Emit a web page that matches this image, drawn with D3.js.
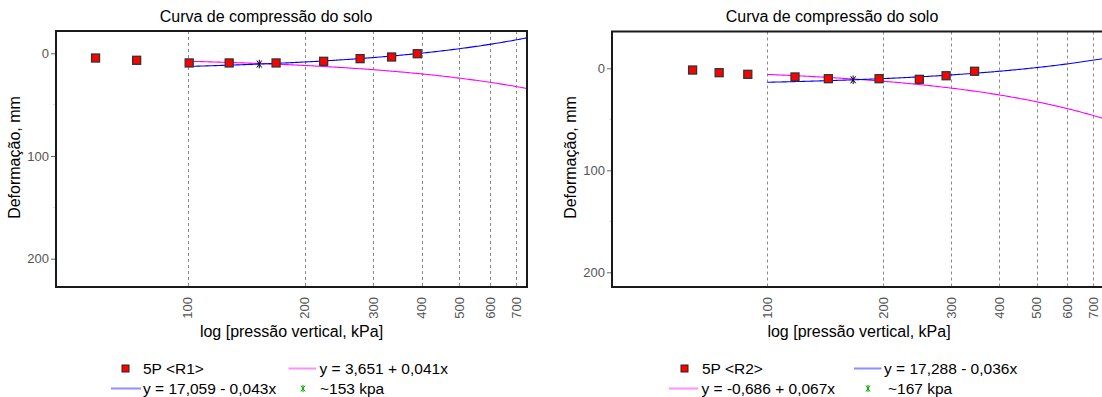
<!DOCTYPE html>
<html>
<head>
<meta charset="utf-8">
<script src="https://cdn.jsdelivr.net/npm/d3@7"></script>
<style>
  body { margin: 0; background: #fff; }
  svg { display: block; font-family: "Liberation Sans", Arial, sans-serif; }
</style>
</head>
<body>
<svg id="chart" width="1102" height="397"></svg>
<script>
// Ensaio 5P — pressão vertical (kPa) e deformação (mm) de cada ramo
const pressR1  = [58, 74, 101, 128, 169, 224, 278, 335, 390];
const deformR1 = [4.6, 6.8, 9.4, 9.4, 9.4, 7.8, 5.2, 3.6, 0.4];
const pressR2  = [64, 75, 89, 118, 144, 195, 248, 291, 345];
const deformR2 = [1.7, 4.3, 5.9, 8.5, 10.2, 10.2, 10.8, 7.3, 2.9];

// Retas ajustadas y = a + b·x (x em kPa), traçadas a partir de 100 kPa
const fitBlueR1 = [17.059, -0.043];
const fitPinkR1 = [3.651, 0.041];
const fitBlueR2 = [17.288, -0.036];
const fitPinkR2 = [-0.686, 0.067];
const fitStartKpa = 100;

// Pressão de pré-adensamento estimada (kPa)
const preconsR1 = 153;
const preconsR2 = 167;

// Eixos
const xTicks = [100, 200, 300, 400, 500, 600, 700];
const yTicks = [0, 100, 200];
const yMinorTicks = [50, 150];

// Textos
const chartTitle = "Curva de compressão do solo";
const xTitle = "log [pressão vertical, kPa]";
const yTitle = "Deformação, mm";
const legendR1 = ["5P <R1>", "y = 3,651 + 0,041x", "y = 17,059 - 0,043x", "~153 kpa"];
const legendR2 = ["5P <R2>", "y = 17,288 - 0,036x", "y = -0,686 + 0,067x", "~167 kpa"];

const BLUE = "#0000ff", PINK = "#ff00ff", GREEN = "#00a000";
const BLUE_LIGHT = "#8f8fff", PINK_LIGHT = "#ff8fff";

const svg = d3.select("#chart");

function starPath(cx, cy, r) {
  const a = Math.PI / 180 * 55;
  const dx = r * Math.cos(a), dy = r * Math.sin(a);
  return `M${cx},${cy - r}L${cx},${cy + r}` +
         `M${cx - dx},${cy - dy}L${cx + dx},${cy + dy}` +
         `M${cx - dx},${cy + dy}L${cx + dx},${cy - dy}`;
}

function drawPanel(o) {
  const [L, R, T, B] = o.frame;
  const x = d3.scaleLog().domain([100, 700]).range(o.xRange);
  const y = d3.scaleLinear().domain([0, 200]).range(o.yRange);
  const g = svg.append("g");

  svg.append("clipPath").attr("id", "clip" + o.key)
    .append("rect").attr("x", L).attr("y", T).attr("width", R - L).attr("height", B - T);

  // título
  g.append("text").attr("x", o.titleX).attr("y", 21.5)
    .attr("text-anchor", "middle").attr("font-size", 16).attr("fill", "#000")
    .text(chartTitle);

  // grade vertical tracejada
  g.append("g").selectAll("line").data(xTicks).join("line")
    .attr("x1", d => Math.round(x(d)) + 0.5).attr("x2", d => Math.round(x(d)) + 0.5)
    .attr("y1", T).attr("y2", B)
    .attr("stroke", "#8a8a8a").attr("stroke-width", 1).attr("stroke-dasharray", "3,3");

  // eixo y
  const yAxis = g.append("g").attr("transform", `translate(${L},0)`)
    .call(d3.axisLeft(y).tickValues(yTicks).tickSize(5).tickPadding(2));
  yAxis.select(".domain").remove();
  yAxis.selectAll(".tick line").attr("stroke", "#666");
  yAxis.selectAll(".tick text").attr("fill", "#555").attr("font-size", 13)
    .attr("font-family", "Liberation Sans, Arial, sans-serif");
  g.append("g").selectAll("line").data(yMinorTicks).join("line")
    .attr("x1", L - 3).attr("x2", L).attr("y1", d => y(d)).attr("y2", d => y(d))
    .attr("stroke", "#ddd");

  // rótulos do eixo x (verticais)
  g.append("g").selectAll("text").data(xTicks).join("text")
    .attr("transform", d => `translate(${x(d)},${B + 10}) rotate(-90)`)
    .attr("text-anchor", "end").attr("dy", "0.35em")
    .attr("font-size", 13).attr("fill", "#555")
    .text(d3.format("d"));

  // títulos dos eixos
  g.append("text").attr("x", (L + R) / 2).attr("y", 337)
    .attr("text-anchor", "middle").attr("font-size", 16).text(xTitle);
  g.append("text")
    .attr("transform", `translate(${L - 36},157.5) rotate(-90)`)
    .attr("text-anchor", "middle").attr("font-size", 16).text(yTitle);

  // retas ajustadas (curvas no eixo logarítmico)
  const xEnd = x.invert(R);
  const xs = d3.range(0, 201).map(i => fitStartKpa * Math.pow(xEnd / fitStartKpa, i / 200));
  const line = d3.line().x(d => x(d[0])).y(d => y(d[1]));
  const plot = g.append("g").attr("clip-path", `url(#clip${o.key})`);
  [[o.fitPink, PINK], [o.fitBlue, BLUE]].forEach(([f, c]) => {
    plot.append("path")
      .datum(xs.map(v => [v, f[0] + f[1] * v]))
      .attr("fill", "none").attr("stroke", c).attr("stroke-width", 1.1)
      .attr("d", line);
  });

  // pontos medidos
  plot.selectAll("rect.pt").data(o.press.map((p, i) => [p, o.deform[i]])).join("rect")
    .attr("class", "pt")
    .attr("x", d => x(d[0]) - 4).attr("y", d => y(d[1]) - 4)
    .attr("width", 8).attr("height", 8)
    .attr("fill", "#ff0000").attr("stroke", "#333").attr("stroke-width", 1.3);

  // pré-adensamento (sobre a reta azul)
  const py = o.fitBlue[0] + o.fitBlue[1] * o.precons;
  plot.append("path").attr("d", starPath(x(o.precons), y(py), 4.3))
    .attr("stroke", "#000").attr("stroke-width", 1).attr("fill", "none");

  // moldura
  g.append("path")
    .attr("d", `M${L},${T}H${R}V${B}H${L}Z`)
    .attr("fill", "none").attr("stroke", "#1a1a1a").attr("stroke-width", 2);

  // legenda
  const rowY = [368.5, 388.5];
  const lg = g.append("g").attr("font-size", 15.5).attr("fill", "#000");
  o.legend.forEach(it => {
    const cy = rowY[it.row];
    if (it.type === "square") {
      lg.append("rect").attr("x", it.sx - 3.5).attr("y", cy - 3.5).attr("width", 7).attr("height", 7)
        .attr("fill", "#ff0000").attr("stroke", "#222").attr("stroke-width", 1);
    } else if (it.type === "line") {
      lg.append("line").attr("x1", it.sx[0]).attr("x2", it.sx[1])
        .attr("y1", cy).attr("y2", cy)
        .attr("stroke", it.color).attr("stroke-width", 2);
    } else if (it.type === "star") {
      lg.append("path").attr("d", starPath(it.sx, cy, 3.6))
        .attr("stroke", GREEN).attr("stroke-width", 1).attr("fill", "none");
    }
    lg.append("text").attr("x", it.tx).attr("y", cy + 5.3).text(it.text);
  });
}

drawPanel({
  key: "R1",
  frame: [56, 527, 31, 287],
  xRange: [187.5, 516],
  yRange: [53.3, 258.7],
  titleX: 266,
  press: pressR1, deform: deformR1,
  fitBlue: fitBlueR1, fitPink: fitPinkR1, precons: preconsR1,
  legend: [
    { type: "square", row: 0, sx: 125.5, tx: 143, text: legendR1[0] },
    { type: "line", row: 0, sx: [288.5, 316], color: PINK_LIGHT, tx: 319.5, text: legendR1[1] },
    { type: "line", row: 1, sx: [111, 141], color: BLUE_LIGHT, tx: 143, text: legendR1[2] },
    { type: "star", row: 1, sx: 303, tx: 320, text: legendR1[3] }
  ]
});

drawPanel({
  key: "R2",
  frame: [612, 1106, 31.5, 287],
  xRange: [767.3, 1093],
  yRange: [68.3, 272.3],
  titleX: 832,
  press: pressR2, deform: deformR2,
  fitBlue: fitBlueR2, fitPink: fitPinkR2, precons: preconsR2,
  legend: [
    { type: "square", row: 0, sx: 684.5, tx: 702, text: legendR2[0] },
    { type: "line", row: 0, sx: [854, 881.5], color: BLUE_LIGHT, tx: 884, text: legendR2[1] },
    { type: "line", row: 1, sx: [669, 698], color: PINK_LIGHT, tx: 701.5, text: legendR2[2] },
    { type: "star", row: 1, sx: 868, tx: 888, text: legendR2[3] }
  ]
});
</script>
</body>
</html>
